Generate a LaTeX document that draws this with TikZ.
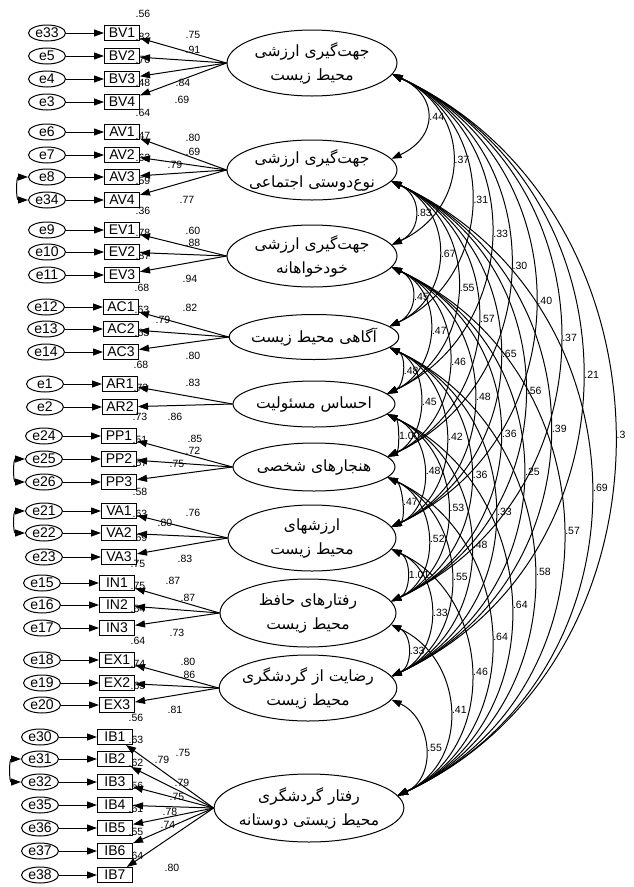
\documentclass[tikz,border=0pt]{standalone}
\usepackage{fontspec}
\setmainfont{Liberation Sans}
\newfontfamily\fa[Script=Arabic]{DejaVu Sans}
\TeXXeTstate=1
\usetikzlibrary{shapes.geometric}
\usetikzlibrary{arrows.meta}

\begin{document}
\begin{tikzpicture}[x=1pt, y=1pt, line width=1pt,
  lat/.style={ellipse, draw, inner sep=-3pt, align=center, font=\fa\fontsize{15.5}{24}\selectfont},
  obs/.style={rectangle, draw, minimum width=35pt, minimum height=15pt, inner sep=0pt, font=\fontsize{14}{14}\selectfont},
  errv/.style={ellipse, draw, minimum width=37pt, minimum height=16pt, inner sep=0pt, font=\fontsize{14}{14}\selectfont},
  lab/.style={inner sep=0pt, font=\fontsize{10.5}{10.5}\selectfont},
  load/.style={-{Triangle[length=10pt,width=7pt]}},
  cov/.style={{Triangle[length=10pt,width=7pt]}-{Triangle[length=10pt,width=7pt]}}]
\useasboundingbox (0,0) rectangle (633,-887);

  % latent variables
  \node[lat, minimum width=170pt, minimum height=66pt] (BV) at (312,-63)
    {\beginR جهت‌گیری ارزشی\endR\\\beginR محیط زیست\endR};
  \node[lat, minimum width=170pt, minimum height=60pt] (AV) at (312,-170)
    {\beginR جهت‌گیری ارزشی\endR\\\beginR نوع‌دوستی اجتماعی\endR};
  \node[lat, minimum width=170pt, minimum height=62pt] (EV) at (312,-256)
    {\beginR جهت‌گیری ارزشی\endR\\\beginR خودخواهانه\endR};
  \node[lat, minimum width=162pt, minimum height=45pt] (AC) at (314,-337) {\beginR آگاهی محیط زیست\endR};
  \node[lat, minimum width=162pt, minimum height=46pt] (AR) at (314,-404) {\beginR احساس مسئولیت\endR};
  \node[lat, minimum width=162pt, minimum height=48pt] (PP) at (314,-467) {\beginR هنجارهای شخصی\endR};
  \node[lat, minimum width=168pt, minimum height=66pt] (VA) at (312,-538)
    {\beginR ارزشهای\endR\\\beginR محیط زیست\endR};
  \node[lat, minimum width=176pt, minimum height=68pt] (IN) at (308,-613)
    {\beginR رفتارهای حافظ\endR\\\beginR محیط زیست\endR};
  \node[lat, minimum width=176pt, minimum height=66pt] (EX) at (308,-688)
    {\beginR رضایت از گردشگری\endR\\\beginR محیط زیست\endR};
  \node[lat, minimum width=182pt, minimum height=68pt] (IB) at (309,-808)
    {\beginR رفتار گردشگری\endR\\\beginR محیط زیستی دوستانه\endR};

  % indicators, errors, loadings, R2
  \foreach \lat/\ind/\err/\ypos/\bx/\rsq/\wt/\lx/\ly in {
      BV/BV1/e33/33/122/.56/.75/193/35, BV/BV2/e5/56/122/.82/.91/193/50,
      BV/BV3/e4/79/122/.70/.84/183/83, BV/BV4/e3/102/122/.48/.69/182/100,
      AV/AV1/e6/132/122/.64/.80/193/138, AV/AV2/e7/155/122/.47/.69/193/152,
      AV/AV3/e8/177/122/.62/.79/175/165, AV/AV4/e34/200/122/.59/.77/187/200,
      EV/EV1/e9/230/122/.36/.60/193/231, EV/EV2/e10/252/122/.78/.88/193/243,
      EV/EV3/e11/275/122/.87/.94/190/279,
      AC/AC1/e12/307/121/.68/.82/190/308, AC/AC2/e13/329/121/.63/.79/163/320,
      AC/AC3/e14/352/121/.63/.80/193/356,
      AR/AR1/e1/384/120/.68/.83/193/383, AR/AR2/e2/407/120/.73/.86/175/417,
      PP/PP1/e24/436/119/.73/.85/195/439, PP/PP2/e25/459/119/.51/.72/193/451,
      PP/PP3/e26/482/119/.57/.75/177/464,
      VA/VA1/e21/511/119/.58/.76/193/513, VA/VA2/e22/533/119/.63/.80/165/523,
      VA/VA3/e23/557/119/.69/.83/185/559,
      IN/IN1/e15/583/117/.75/.87/173/581, IN/IN2/e16/605/117/.75/.87/188/598,
      IN/IN3/e17/628/117/.64/.73/177/633,
      EX/EX1/e18/660/117/.64/.80/188/662, EX/EX2/e19/683/117/.74/.86/188/675,
      EX/EX3/e20/705/117/.65/.81/175/710,
      IB/IB1/e30/737/115/.56/.75/183/753, IB/IB2/e31/759/115/.63/.79/162/760,
      IB/IB3/e32/782/115/.62/.79/182/783, IB/IB4/e35/805/115/.56/.75/177/797,
      IB/IB5/e36/828/115/.61/.78/170/812, IB/IB6/e37/851/115/.55/.74/168/825,
      IB/IB7/e38/875/115/.64/.80/172/868}
  {
    \node[lab] (r\ind) at (\bx+21,-\ypos+19) {\rsq};
    \node[lab] (w\ind) at (\lx,-\ly) {\wt};
    \node[obs] (\ind) at (\bx,-\ypos) {\ind};
    \node[errv] (\err) at (\bx-75,-\ypos) {\err};
    \draw[load] (\err) -- (\ind);
    \draw[load] (\lat.west) -- (\ind);
  }

  % error covariances
  \foreach \from/\to in {e8/e34, e25/e26, e21/e22, e31/e32}
    \draw[cov] (\from.west) to[out=180, in=180, distance=12pt] (\to.west);

  % factor covariances
  \foreach \from/\to/\apex/\val in {
      BV/AV/425/.44, BV/EV/450/.37, BV/AC/470/.31, BV/AR/491/.33, BV/PP/510/.30,
      BV/VA/533/.40, BV/IN/558/.37, BV/EX/580/.21, BV/IB/609/.3,
      AV/EV/413/.83, AV/AC/438/.67, AV/AR/458/.55, AV/PP/478/.57, AV/VA/498/.65,
      AV/IN/523/.56, AV/EX/548/.39, AV/IB/586/.69,
      EV/AC/411/.45, EV/AR/430/.47, EV/PP/449/.46, EV/VA/472/.48, EV/IN/498/.36,
      EV/EX/521/.25, EV/IB/558/.57,
      AC/AR/403/.48, AC/PP/421/.45, AC/VA/445/.42, AC/IN/470/.36, AC/EX/494/.33,
      AC/IB/530/.58,
      AR/PP/399/1.00, AR/VA/424/.48, AR/IN/448/.53, AR/EX/471/.48, AR/IB/508/.64,
      PP/VA/401/.47, PP/IN/428/.52, PP/EX/451/.55, PP/IB/488/.64,
      VA/IN/405/1.01, VA/EX/429/.33, VA/IB/466/.46,
      IN/EX/406/.33, IN/IB/445/.41,
      EX/IB/420/.55}
  {
    \pgfmathsetmacro\d{max(12,(\apex-390)/0.68)}
    \draw[cov] (\from.-8) to[out=-25, in=25, distance=\d pt]
      node[lab, midway, right=2pt] {\val} (\to.8);
  }
\end{tikzpicture}
\end{document}
